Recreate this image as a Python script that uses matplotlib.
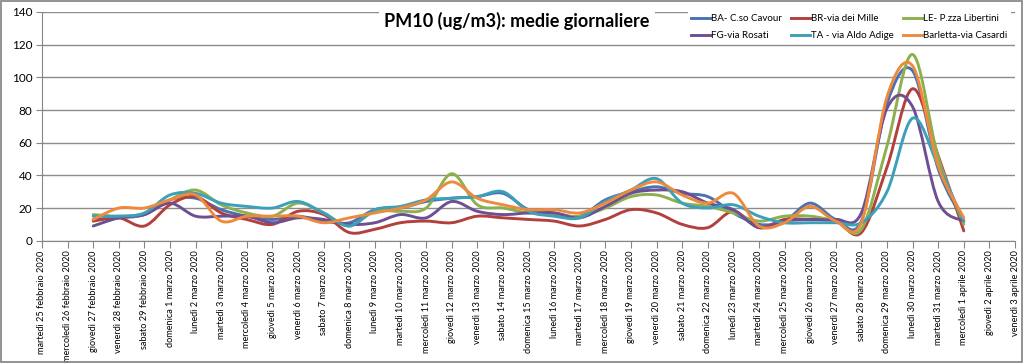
import numpy as np
import matplotlib.pyplot as plt
from matplotlib.path import Path
from matplotlib.patches import PathPatch, Rectangle
from matplotlib.lines import Line2D

plt.rcParams['font.family'] = ['Lato', 'DejaVu Sans']

# Category labels: 25 Feb 2020 .. 3 Apr 2020
days = ["martedì 25 febbraio 2020", "mercoledì 26 febbraio 2020", "giovedì 27 febbraio 2020",
        "venerdì 28 febbraio 2020", "sabato 29 febbraio 2020", "domenica 1 marzo 2020",
        "lunedì 2 marzo 2020", "martedì 3 marzo 2020", "mercoledì 4 marzo 2020",
        "giovedì 5 marzo 2020", "venerdì 6 marzo 2020", "sabato 7 marzo 2020",
        "domenica 8 marzo 2020", "lunedì 9 marzo 2020", "martedì 10 marzo 2020",
        "mercoledì 11 marzo 2020", "giovedì 12 marzo 2020", "venerdì 13 marzo 2020",
        "sabato 14 marzo 2020", "domenica 15 marzo 2020", "lunedì 16 marzo 2020",
        "martedì 17 marzo 2020", "mercoledì 18 marzo 2020", "giovedì 19 marzo 2020",
        "venerdì 20 marzo 2020", "sabato 21 marzo 2020", "domenica 22 marzo 2020",
        "lunedì 23 marzo 2020", "martedì 24 marzo 2020", "mercoledì 25 marzo 2020",
        "giovedì 26 marzo 2020", "venerdì 27 marzo 2020", "sabato 28 marzo 2020",
        "domenica 29 marzo 2020", "lunedì 30 marzo 2020", "martedì 31 marzo 2020",
        "mercoledì 1 aprile 2020", "giovedì 2 aprile 2020", "venerdì 3 aprile 2020"]

# daily means, 27 Feb .. 1 Apr (index 2..36)
first_day = 2
ba = [13, 14, 16, 25, 26, 19, 15, 13, 15, 12, 11, 19, 20, 24, 26, 27, 29, 19, 17, 15,
      25, 30, 33, 29, 27, 17, 10, 12, 23, 13, 12, 84, 104, 44, 12]
br = [12, 14, 9, 22, 27, 17, 13, 10, 18, 16, 5, 7, 11, 12, 11, 15, 14, 13, 12, 9,
      13, 19, 17, 10, 8, 18, 8, 13, 13, 12, 5, 45, 93, 52, 6]
le = [16, 15, 16, 25, 31, 22, 17, 15, 23, 17, 9, 18, 18, 20, 41, 22, 20, 17, 16, 15,
      20, 27, 28, 23, 21, 17, 12, 15, 15, 12, 7, 58, 114, 51, 10]
fg = [9, 14, 16, 23, 15, 15, 15, 11, 14, 13, 10, 11, 16, 14, 24, 18, 16, 17, 17, 14,
      21, 29, 31, 30, 23, 19, 8, 12, 13, 13, 17, 81, 82, 24, 12]
ta = [15, 15, 17, 28, 29, 23, 21, 20, 24, 17, 9, 19, 21, 25, 26, 27, 30, 18, 15, 14,
      24, 31, 38, 23, 20, 22, 15, 11, 11, 11, 11, 30, 75, 46, 12]
bt = [13, 20, 20, 25, 28, 12, 15, 15, 15, 11, 14, 17, 20, 25, 36, 26, 22, 19, 19, 17,
      23, 31, 36, 28, 23, 29, 9, 11, 21, 12, 11, 88, 107, 46, 14]

names = ["BA- C.so Cavour", "BR-via dei Mille", "LE- P.zza Libertini",
         "FG-via Rosati", "TA - via Aldo Adige", "Barletta-via Casardi"]
colors = ["#4A72B0", "#B2403D", "#8DB04E", "#6E4F92", "#3DA0BA", "#EF8A3C"]
series = [ba, br, le, fg, ta, bt]


def smooth_path(x, y):
    # Excel-style smoothed line: Bezier segments through every point
    pts = np.column_stack([x, y]).astype(float)
    n = len(pts)
    verts = [pts[0]]
    codes = [Path.MOVETO]
    for i in range(n - 1):
        p0 = pts[max(i - 1, 0)]
        p1 = pts[i]
        p2 = pts[i + 1]
        p3 = pts[min(i + 2, n - 1)]
        c1 = p1 + (p2 - p0) / 6.0
        c2 = p2 - (p3 - p1) / 6.0
        verts += [c1, c2, p2]
        codes += [Path.CURVE4] * 3
    return Path(verts, codes)


fig = plt.figure(figsize=(10.24, 3.63), dpi=100)
ax = fig.add_axes([42 / 1024, 1 - 240.7 / 363, 973 / 1024, 228.7 / 363])

handles = []
for vals, name, col in zip(series, names, colors):
    x = np.arange(first_day, first_day + len(vals))
    patch = PathPatch(smooth_path(x, vals), fill=False, edgecolor=col, lw=2.1,
                      capstyle='round', joinstyle='round', zorder=3)
    ax.add_patch(patch)
    handles.append(Line2D([], [], color=col, lw=2.1, label=name))

ax.set_xlim(0, len(days) - 1)
ax.set_ylim(0, 140)
ax.set_yticks(range(0, 141, 20))
ax.set_xticks(range(len(days)))
ax.set_xticklabels(days, rotation=90, fontsize=6.6)
ax.tick_params(axis='y', labelsize=8.5, length=4, color='#868686', pad=3)
ax.tick_params(axis='x', length=5, color='#868686', pad=2)
ax.grid(axis='y', color='#8C8C8C', lw=1.0, zorder=0)
ax.set_axisbelow(True)
for s in ['top', 'right']:
    ax.spines[s].set_visible(False)
for s in ['left', 'bottom']:
    ax.spines[s].set_color('#868686')

ax.text(0.352, 0.96, "PM10 (ug/m3): medie giornaliere", transform=ax.transAxes,
        fontsize=13, fontweight='bold', ha='left', va='center', zorder=5,
        bbox=dict(facecolor='white', edgecolor='none', pad=4))

order = [0, 3, 1, 4, 2, 5]
leg = ax.legend([handles[i] for i in order], [names[i] for i in order], ncol=3,
                loc='upper right', bbox_to_anchor=(1.0, 1.025), fontsize=7,
                frameon=True, handlelength=2.0, handletextpad=0.1,
                columnspacing=0.9, borderpad=0.3, labelspacing=0.85)
leg.get_frame().set_edgecolor('white')
leg.get_frame().set_facecolor('white')
leg.get_frame().set_alpha(1)
leg.set_zorder(5)

fig.patches.append(Rectangle((0.001, 0.002), 0.997, 0.995, transform=fig.transFigure,
                             fill=False, edgecolor='#808080', lw=1.2))

fig.savefig("out.png", dpi=100)
